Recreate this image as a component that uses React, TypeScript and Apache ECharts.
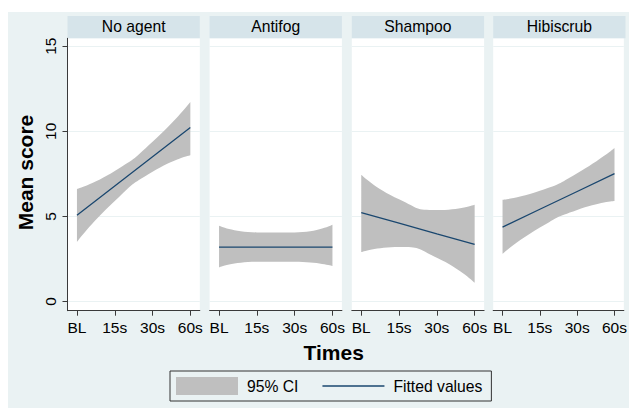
import React, { useEffect, useRef } from 'react';
import * as echarts from 'echarts';

const panels = ['No agent', 'Antifog', 'Shampoo', 'Hibiscrub'];
const timeLabels = ['BL', '15s', '30s', '60s'];
const timePos = [0, 1, 2, 3];
const yTicks = [0, 5, 10, 15];

const fitted = [
  [5.06, 6.78, 8.5, 10.22],
  [3.19, 3.19, 3.19, 3.19],
  [5.22, 4.6, 3.97, 3.35],
  [4.37, 5.42, 6.46, 7.51],
];
const ciUpper = [
  [6.6, 7.66, 9.38, 11.72],
  [4.45, 4.06, 4.06, 4.51],
  [7.45, 6.0, 5.37, 5.69],
  [5.98, 6.5, 7.54, 9.02],
];
const ciLower = [
  [3.49, 5.9, 7.62, 8.59],
  [2.0, 2.33, 2.33, 2.08],
  [2.9, 3.2, 2.57, 1.1],
  [2.8, 4.34, 5.38, 5.9],
];

const FONT = '"Liberation Sans", Arial, Helvetica, sans-serif';
const BG = '#EAF2F3';
const HEAD = '#D6E4EA';
const NAVY = '#1A476F';
const BAND = '#BFBFBF';
const AXIS = '#3A3A3A';
const SMOOTH = 0.6;

const GRID_TOP = 38.3;
const GRID_H = 272.4;
const GRID_W = 132.3;
const lefts = [67.5, 209.6, 351.8, 493.2];

export default function App() {
  const ref = useRef<HTMLDivElement>(null);
  useEffect(() => {
    if (!ref.current) return;
    const chart = echarts.init(ref.current, undefined, { renderer: 'svg' });
    const grids: any[] = [];
    const xAxes: any[] = [];
    const yAxes: any[] = [];
    const series: any[] = [];
    const graphics: any[] = [
      { type: 'rect', z: -10, shape: { x: 8, y: 12, width: 621, height: 400 }, style: { fill: BG } },
    ];
    panels.forEach((p, i) => {
      grids.push({
        left: lefts[i], top: GRID_TOP, width: GRID_W, height: GRID_H,
        show: true, backgroundColor: '#fff', borderWidth: 0,
      });
      xAxes.push({
        type: 'value', gridIndex: i, min: -0.25, max: 3.25,
        axisLine: { show: true, onZero: false, lineStyle: { color: AXIS, width: 1 } },
        axisTick: { show: true, length: 5, customValues: timePos, lineStyle: { color: AXIS } },
        axisLabel: {
          customValues: timePos, margin: 9, fontSize: 15.5, fontFamily: FONT, color: '#000',
          formatter: (v: number) => timeLabels[Math.round(v)],
        },
        splitLine: { show: false },
      });
      yAxes.push({
        type: 'value', gridIndex: i, min: -0.54, max: 15.46,
        axisLine: { show: i === 0, onZero: false, lineStyle: { color: AXIS, width: 1 } },
        axisTick: { show: i === 0, length: 5, customValues: yTicks, lineStyle: { color: AXIS } },
        axisLabel: {
          show: i === 0, customValues: yTicks, rotate: 90, margin: 9, fontSize: 15.5,
          fontFamily: FONT, color: '#000',
        },
        splitLine: { show: true, lineStyle: { color: BG, width: 1 } },
      });
      // data stored as [value, time] so the stacked dimension is the value one
      series.push({
        type: 'line', name: 'lower' + i, xAxisIndex: i, yAxisIndex: i, stack: 'ci' + i,
        encode: { x: 1, y: 0 },
        data: ciLower[i].map((v, k) => [v, timePos[k]]), smooth: SMOOTH, symbol: 'none',
        lineStyle: { opacity: 0 }, silent: true, z: 1,
      });
      series.push({
        type: 'line', name: '95% CI', xAxisIndex: i, yAxisIndex: i, stack: 'ci' + i,
        encode: { x: 1, y: 0 },
        data: ciUpper[i].map((v, k) => [v - ciLower[i][k], timePos[k]]), smooth: SMOOTH, symbol: 'none',
        color: BAND, lineStyle: { opacity: 0 }, areaStyle: { color: BAND, opacity: 1 }, silent: true, z: 1,
      });
      series.push({
        type: 'line', name: 'Fitted values', xAxisIndex: i, yAxisIndex: i,
        data: fitted[i].map((v, k) => [timePos[k], v]), symbol: 'none',
        color: NAVY, lineStyle: { color: NAVY, width: 1.3 }, silent: true, z: 3,
      });
      graphics.push({
        type: 'rect', shape: { x: lefts[i], y: 16, width: GRID_W, height: GRID_TOP - 16 },
        style: { fill: HEAD },
      });
      graphics.push({
        type: 'text', x: lefts[i] + GRID_W / 2, y: 26.5,
        style: { text: p, fontSize: 15.7, fontFamily: FONT, fill: '#000', align: 'center', verticalAlign: 'middle' },
      });
    });
    graphics.push({
      type: 'text', x: 25.5, y: 172.5, rotation: Math.PI / 2,
      style: { text: 'Mean score', fontSize: 21, fontWeight: 'bold', fontFamily: FONT, fill: '#000', align: 'center', verticalAlign: 'middle' },
    });
    graphics.push({
      type: 'text', x: 333.7, y: 352,
      style: { text: 'Times', fontSize: 21, fontWeight: 'bold', fontFamily: FONT, fill: '#000', align: 'center', verticalAlign: 'middle' },
    });

    chart.setOption({
      animation: false,
      backgroundColor: '#fff',
      grid: grids,
      xAxis: xAxes,
      yAxis: yAxes,
      series,
      graphic: graphics,
      legend: {
        left: 170, top: 371, orient: 'horizontal',
        padding: [6, 9, 6, 6], itemWidth: 62, itemHeight: 18, itemGap: 24,
        borderColor: '#333', borderWidth: 1, selectedMode: false, symbolKeepAspect: true,
        textStyle: { fontSize: 15.7, fontFamily: FONT, color: '#000', padding: [0, 0, 0, 4] },
        data: [
          { name: '95% CI', icon: 'rect', itemStyle: { color: BAND } },
          { name: 'Fitted values', icon: 'path://M0,0H62V1.3H0Z', itemStyle: { color: NAVY } },
        ],
      },
    });
    return () => chart.dispose();
  }, []);
  return <div ref={ref} style={{ position: 'fixed', left: 0, top: 0, width: 630, height: 408 }} />;
}
